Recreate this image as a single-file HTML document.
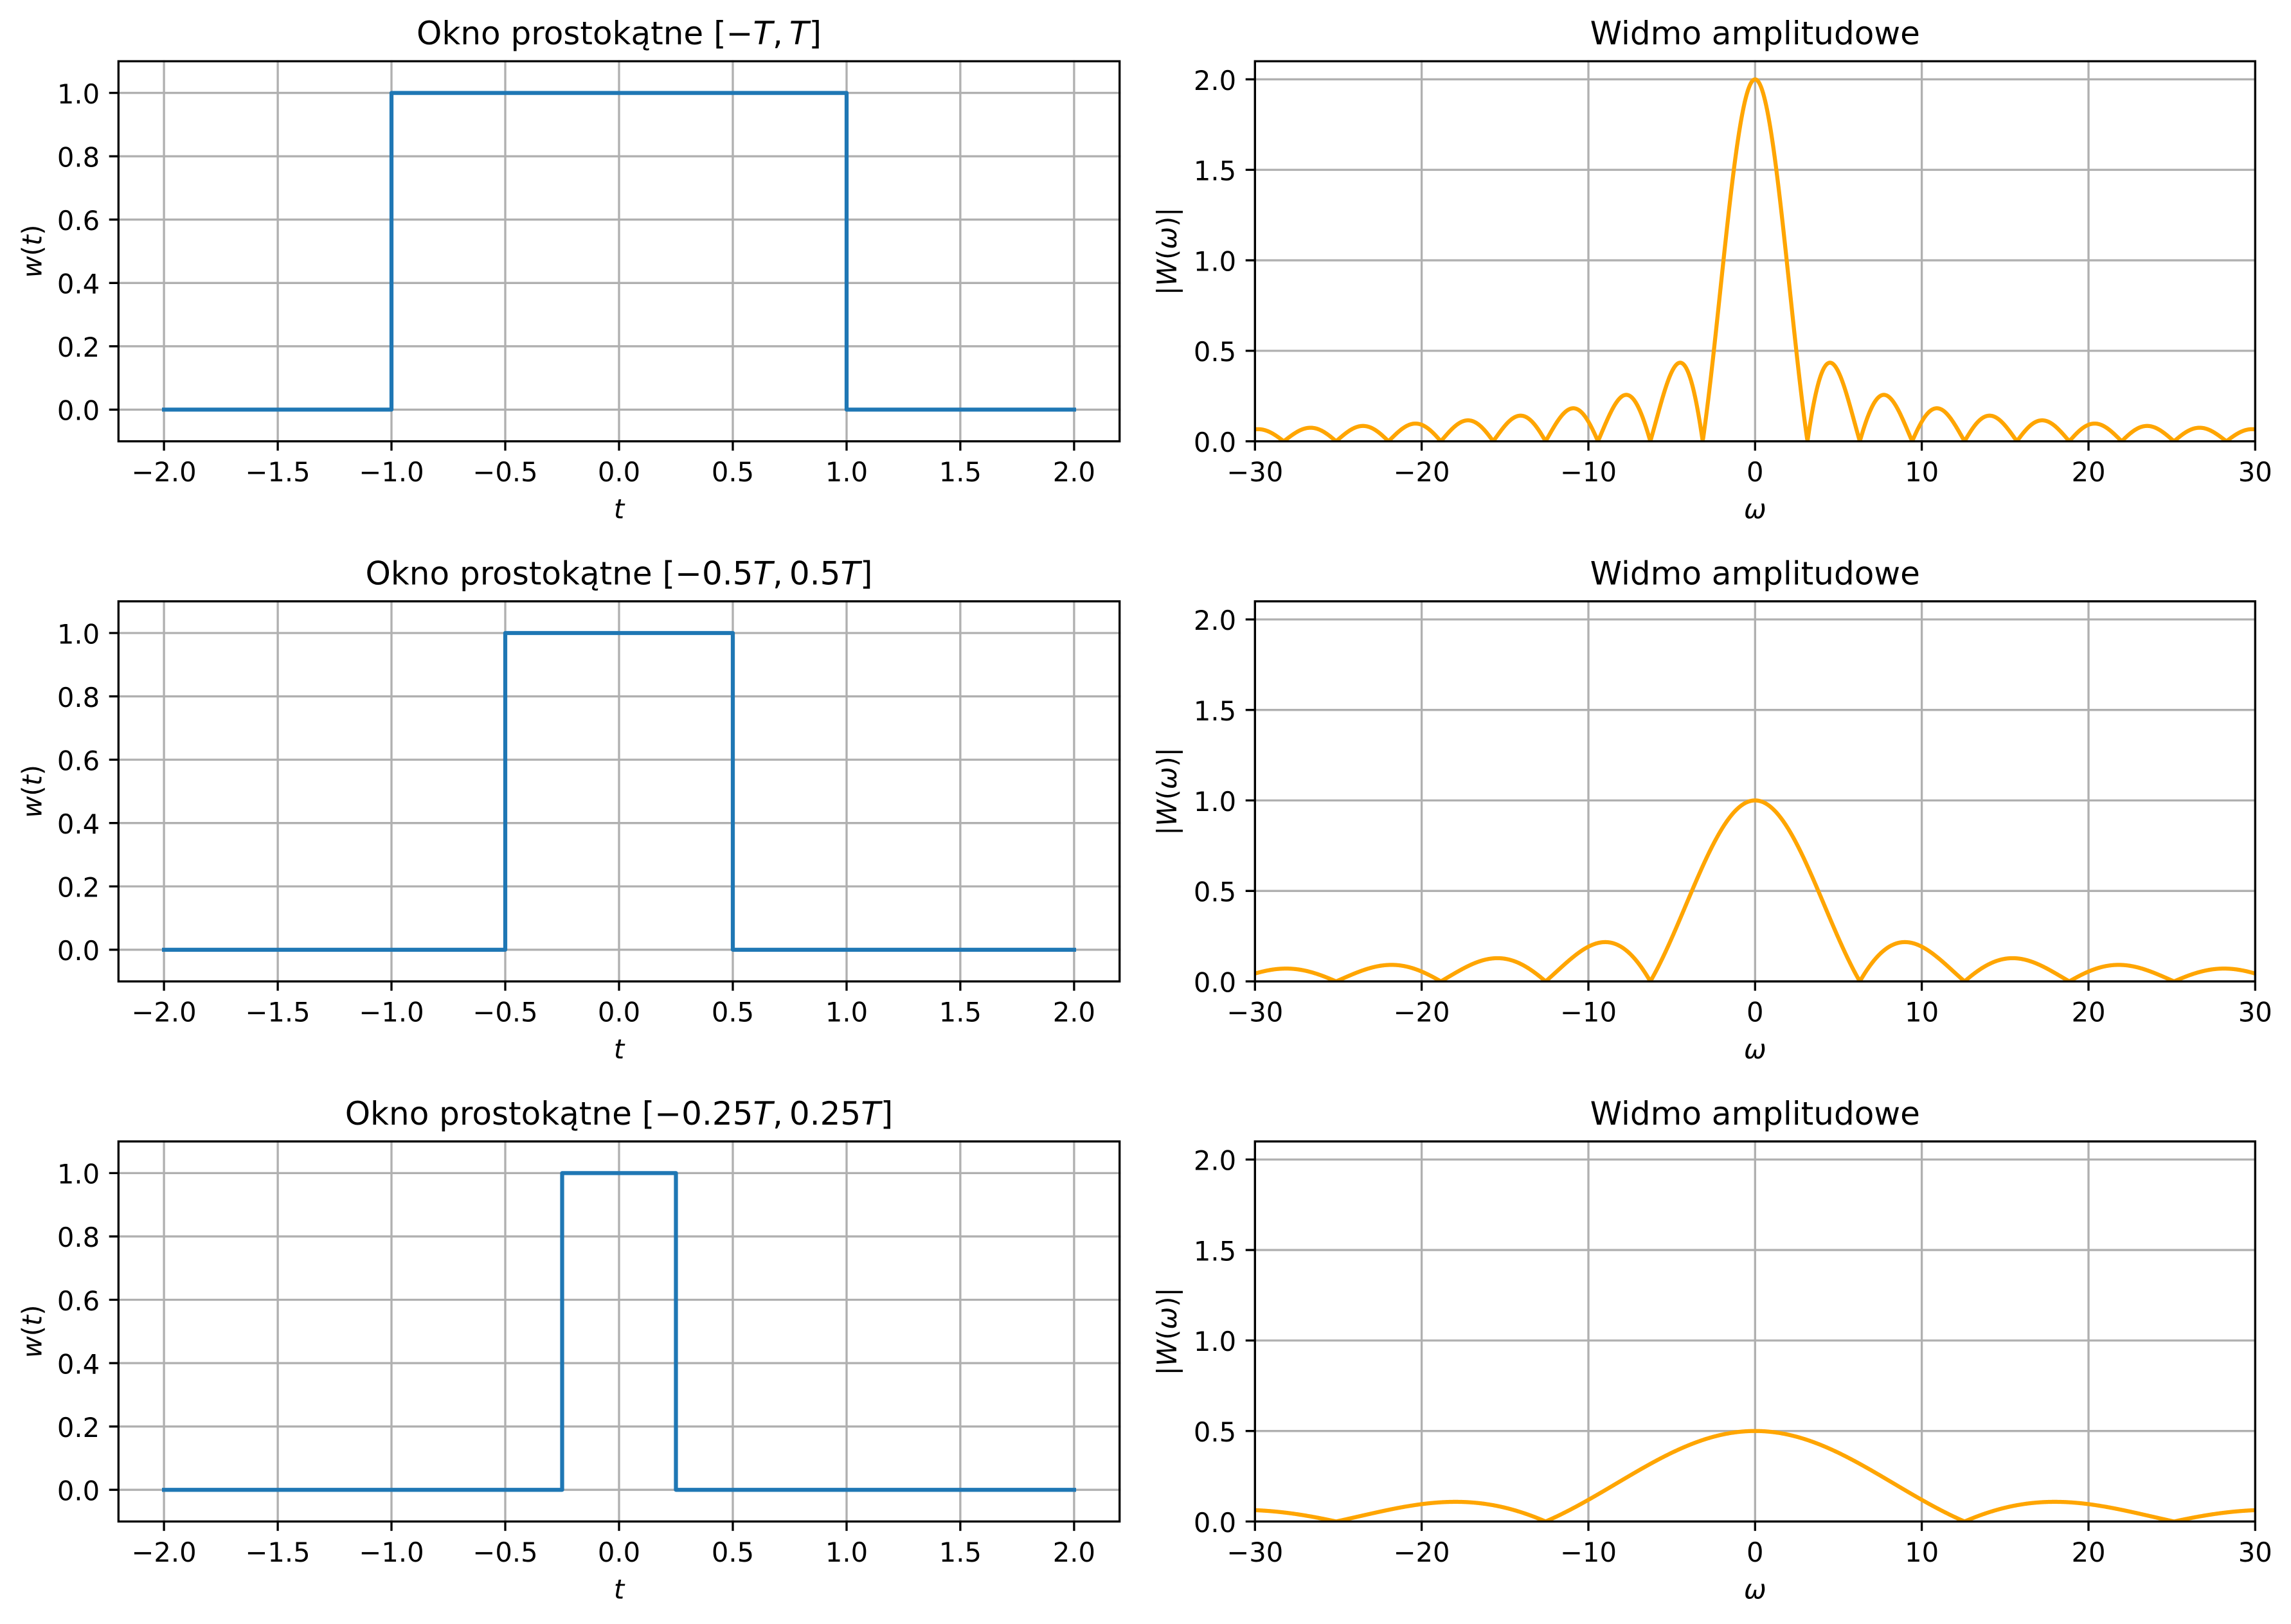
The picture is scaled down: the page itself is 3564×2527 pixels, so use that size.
<!DOCTYPE html>
<html>
<head>
<meta charset="utf-8">
<style>
  html, body { margin: 0; padding: 0; background: #ffffff; }
  svg { display: block; }
  .t { font-family: "DejaVu Sans", "Liberation Sans", sans-serif; font-size: 41.67px; fill: #000; }
  .ti { font-family: "DejaVu Sans", "Liberation Sans", sans-serif; font-size: 50px; fill: #000; }
  .grid { stroke: #b0b0b0; stroke-width: 3.33; fill: none; stroke-linecap: square; }
  .spine { stroke: #000; stroke-width: 3.33; fill: none; stroke-linejoin: miter; }
  .tick { stroke: #000; stroke-width: 3.33; fill: none; }
  .blue { stroke: #1f77b4; stroke-width: 6.25; fill: none; stroke-linejoin: round; stroke-linecap: square; }
  .orange { stroke: #ffa500; stroke-width: 6.25; fill: none; stroke-linejoin: round; stroke-linecap: square; }
</style>
</head>
<body>
<svg xmlns="http://www.w3.org/2000/svg" width="3564" height="2527" viewBox="0 0 3564 2527">
  <rect x="0" y="0" width="3564" height="2527" fill="#ffffff"/>
  <defs>
    <clipPath id="cl" clipPathUnits="userSpaceOnUse"><rect x="184.3" y="0" width="1557.4" height="591.4"/></clipPath>
    <clipPath id="cr" clipPathUnits="userSpaceOnUse"><rect x="1952.3" y="0" width="1556" height="591.4"/></clipPath>
  </defs>

  <!-- ================= ROW 1 ================= -->
  <g transform="translate(0,95.3)">
    <!-- LEFT -->
    <path class="grid" d="M255.1 0V591.4M432.1 0V591.4M609.0 0V591.4M786.0 0V591.4M963.0 0V591.4M1140.0 0V591.4M1317.0 0V591.4M1493.9 0V591.4M1670.9 0V591.4"/>
    <path class="grid" d="M184.3 49.28H1741.7M184.3 147.85H1741.7M184.3 246.42H1741.7M184.3 344.98H1741.7M184.3 443.55H1741.7M184.3 542.12H1741.7"/>
    <path class="blue" clip-path="url(#cl)" d="M255.1 542.12H609.0V49.28H1317.0V542.12H1670.9"/>
    <rect class="spine" x="184.3" y="0" width="1557.4" height="591.4"/>
    <path class="tick" d="M255.1 591.4v14.58M432.1 591.4v14.58M609.0 591.4v14.58M786.0 591.4v14.58M963.0 591.4v14.58M1140.0 591.4v14.58M1317.0 591.4v14.58M1493.9 591.4v14.58M1670.9 591.4v14.58"/>
    <path class="tick" d="M184.3 49.28h-14.58M184.3 147.85h-14.58M184.3 246.42h-14.58M184.3 344.98h-14.58M184.3 443.55h-14.58M184.3 542.12h-14.58"/>
    <g class="t" text-anchor="middle">
      <text x="255.1" y="653.7">−2.0</text>
      <text x="432.1" y="653.7">−1.5</text>
      <text x="609.0" y="653.7">−1.0</text>
      <text x="786.0" y="653.7">−0.5</text>
      <text x="963.0" y="653.7">0.0</text>
      <text x="1140.0" y="653.7">0.5</text>
      <text x="1317.0" y="653.7">1.0</text>
      <text x="1493.9" y="653.7">1.5</text>
      <text x="1670.9" y="653.7">2.0</text>
    </g>
    <g class="t" text-anchor="end">
      <text x="155.1" y="65.58">1.0</text>
      <text x="155.1" y="164.15">0.8</text>
      <text x="155.1" y="262.72">0.6</text>
      <text x="155.1" y="361.28">0.4</text>
      <text x="155.1" y="459.85">0.2</text>
      <text x="155.1" y="558.42">0.0</text>
    </g>
    <text class="t" x="963.0" y="711.4" text-anchor="middle" font-style="italic">t</text>
    <text class="t" transform="translate(64.5,295.7) rotate(-90)" text-anchor="middle"><tspan font-style="italic">w</tspan>(<tspan font-style="italic">t</tspan>)</text>
    <text class="ti" x="963.0" y="-26.3" text-anchor="middle">Okno prostokątne [−<tspan font-style="italic">T</tspan>,&#8201;<tspan font-style="italic">T</tspan>]</text>

    <!-- RIGHT -->
    <path class="grid" d="M1952.3 0V591.4M2211.6 0V591.4M2471.0 0V591.4M2730.3 0V591.4M2989.6 0V591.4M3249.0 0V591.4M3508.3 0V591.4"/>
    <path class="grid" d="M1952.3 28.16H3508.3M1952.3 168.97H3508.3M1952.3 309.78H3508.3M1952.3 450.59H3508.3M1952.3 591.4H3508.3"/>
    <path id="o0" class="orange" clip-path="url(#cr)" d=""/>
    <rect class="spine" x="1952.3" y="0" width="1556" height="591.4"/>
    <path class="tick" d="M1952.3 591.4v14.58M2211.6 591.4v14.58M2471.0 591.4v14.58M2730.3 591.4v14.58M2989.6 591.4v14.58M3249.0 591.4v14.58M3508.3 591.4v14.58"/>
    <path class="tick" d="M1952.3 28.16h-14.58M1952.3 168.97h-14.58M1952.3 309.78h-14.58M1952.3 450.59h-14.58M1952.3 591.4h-14.58"/>
    <g class="t" text-anchor="middle">
      <text x="1952.3" y="653.7">−30</text>
      <text x="2211.6" y="653.7">−20</text>
      <text x="2471.0" y="653.7">−10</text>
      <text x="2730.3" y="653.7">0</text>
      <text x="2989.6" y="653.7">10</text>
      <text x="3249.0" y="653.7">20</text>
      <text x="3508.3" y="653.7">30</text>
    </g>
    <g class="t" text-anchor="end">
      <text x="1923.1" y="44.46">2.0</text>
      <text x="1923.1" y="185.27">1.5</text>
      <text x="1923.1" y="326.08">1.0</text>
      <text x="1923.1" y="466.89">0.5</text>
      <text x="1923.1" y="607.7">0.0</text>
    </g>
    <text class="t" x="2730.3" y="711.4" text-anchor="middle" font-style="italic">ω</text>
    <text class="t" transform="translate(1830,295.7) rotate(-90)" text-anchor="middle">|<tspan font-style="italic">W</tspan>(<tspan font-style="italic">ω</tspan>)|</text>
    <text class="ti" x="2730.3" y="-26.3" text-anchor="middle">Widmo amplitudowe</text>
  </g>

  <!-- ================= ROW 2 ================= -->
  <g transform="translate(0,935.7)">
    <!-- LEFT -->
    <path class="grid" d="M255.1 0V591.4M432.1 0V591.4M609.0 0V591.4M786.0 0V591.4M963.0 0V591.4M1140.0 0V591.4M1317.0 0V591.4M1493.9 0V591.4M1670.9 0V591.4"/>
    <path class="grid" d="M184.3 49.28H1741.7M184.3 147.85H1741.7M184.3 246.42H1741.7M184.3 344.98H1741.7M184.3 443.55H1741.7M184.3 542.12H1741.7"/>
    <path class="blue" clip-path="url(#cl)" d="M255.1 542.12H786.0V49.28H1140.0V542.12H1670.9"/>
    <rect class="spine" x="184.3" y="0" width="1557.4" height="591.4"/>
    <path class="tick" d="M255.1 591.4v14.58M432.1 591.4v14.58M609.0 591.4v14.58M786.0 591.4v14.58M963.0 591.4v14.58M1140.0 591.4v14.58M1317.0 591.4v14.58M1493.9 591.4v14.58M1670.9 591.4v14.58"/>
    <path class="tick" d="M184.3 49.28h-14.58M184.3 147.85h-14.58M184.3 246.42h-14.58M184.3 344.98h-14.58M184.3 443.55h-14.58M184.3 542.12h-14.58"/>
    <g class="t" text-anchor="middle">
      <text x="255.1" y="653.7">−2.0</text>
      <text x="432.1" y="653.7">−1.5</text>
      <text x="609.0" y="653.7">−1.0</text>
      <text x="786.0" y="653.7">−0.5</text>
      <text x="963.0" y="653.7">0.0</text>
      <text x="1140.0" y="653.7">0.5</text>
      <text x="1317.0" y="653.7">1.0</text>
      <text x="1493.9" y="653.7">1.5</text>
      <text x="1670.9" y="653.7">2.0</text>
    </g>
    <g class="t" text-anchor="end">
      <text x="155.1" y="65.58">1.0</text>
      <text x="155.1" y="164.15">0.8</text>
      <text x="155.1" y="262.72">0.6</text>
      <text x="155.1" y="361.28">0.4</text>
      <text x="155.1" y="459.85">0.2</text>
      <text x="155.1" y="558.42">0.0</text>
    </g>
    <text class="t" x="963.0" y="711.4" text-anchor="middle" font-style="italic">t</text>
    <text class="t" transform="translate(64.5,295.7) rotate(-90)" text-anchor="middle"><tspan font-style="italic">w</tspan>(<tspan font-style="italic">t</tspan>)</text>
    <text class="ti" x="963.0" y="-26.3" text-anchor="middle">Okno prostokątne [−0.5<tspan font-style="italic">T</tspan>,&#8201;0.5<tspan font-style="italic">T</tspan>]</text>

    <!-- RIGHT -->
    <path class="grid" d="M1952.3 0V591.4M2211.6 0V591.4M2471.0 0V591.4M2730.3 0V591.4M2989.6 0V591.4M3249.0 0V591.4M3508.3 0V591.4"/>
    <path class="grid" d="M1952.3 28.16H3508.3M1952.3 168.97H3508.3M1952.3 309.78H3508.3M1952.3 450.59H3508.3M1952.3 591.4H3508.3"/>
    <path id="o1" class="orange" clip-path="url(#cr)" d=""/>
    <rect class="spine" x="1952.3" y="0" width="1556" height="591.4"/>
    <path class="tick" d="M1952.3 591.4v14.58M2211.6 591.4v14.58M2471.0 591.4v14.58M2730.3 591.4v14.58M2989.6 591.4v14.58M3249.0 591.4v14.58M3508.3 591.4v14.58"/>
    <path class="tick" d="M1952.3 28.16h-14.58M1952.3 168.97h-14.58M1952.3 309.78h-14.58M1952.3 450.59h-14.58M1952.3 591.4h-14.58"/>
    <g class="t" text-anchor="middle">
      <text x="1952.3" y="653.7">−30</text>
      <text x="2211.6" y="653.7">−20</text>
      <text x="2471.0" y="653.7">−10</text>
      <text x="2730.3" y="653.7">0</text>
      <text x="2989.6" y="653.7">10</text>
      <text x="3249.0" y="653.7">20</text>
      <text x="3508.3" y="653.7">30</text>
    </g>
    <g class="t" text-anchor="end">
      <text x="1923.1" y="44.46">2.0</text>
      <text x="1923.1" y="185.27">1.5</text>
      <text x="1923.1" y="326.08">1.0</text>
      <text x="1923.1" y="466.89">0.5</text>
      <text x="1923.1" y="607.7">0.0</text>
    </g>
    <text class="t" x="2730.3" y="711.4" text-anchor="middle" font-style="italic">ω</text>
    <text class="t" transform="translate(1830,295.7) rotate(-90)" text-anchor="middle">|<tspan font-style="italic">W</tspan>(<tspan font-style="italic">ω</tspan>)|</text>
    <text class="ti" x="2730.3" y="-26.3" text-anchor="middle">Widmo amplitudowe</text>
  </g>

  <!-- ================= ROW 3 ================= -->
  <g transform="translate(0,1776.1)">
    <!-- LEFT -->
    <path class="grid" d="M255.1 0V591.4M432.1 0V591.4M609.0 0V591.4M786.0 0V591.4M963.0 0V591.4M1140.0 0V591.4M1317.0 0V591.4M1493.9 0V591.4M1670.9 0V591.4"/>
    <path class="grid" d="M184.3 49.28H1741.7M184.3 147.85H1741.7M184.3 246.42H1741.7M184.3 344.98H1741.7M184.3 443.55H1741.7M184.3 542.12H1741.7"/>
    <path class="blue" clip-path="url(#cl)" d="M255.1 542.12H874.5V49.28H1051.5V542.12H1670.9"/>
    <rect class="spine" x="184.3" y="0" width="1557.4" height="591.4"/>
    <path class="tick" d="M255.1 591.4v14.58M432.1 591.4v14.58M609.0 591.4v14.58M786.0 591.4v14.58M963.0 591.4v14.58M1140.0 591.4v14.58M1317.0 591.4v14.58M1493.9 591.4v14.58M1670.9 591.4v14.58"/>
    <path class="tick" d="M184.3 49.28h-14.58M184.3 147.85h-14.58M184.3 246.42h-14.58M184.3 344.98h-14.58M184.3 443.55h-14.58M184.3 542.12h-14.58"/>
    <g class="t" text-anchor="middle">
      <text x="255.1" y="653.7">−2.0</text>
      <text x="432.1" y="653.7">−1.5</text>
      <text x="609.0" y="653.7">−1.0</text>
      <text x="786.0" y="653.7">−0.5</text>
      <text x="963.0" y="653.7">0.0</text>
      <text x="1140.0" y="653.7">0.5</text>
      <text x="1317.0" y="653.7">1.0</text>
      <text x="1493.9" y="653.7">1.5</text>
      <text x="1670.9" y="653.7">2.0</text>
    </g>
    <g class="t" text-anchor="end">
      <text x="155.1" y="65.58">1.0</text>
      <text x="155.1" y="164.15">0.8</text>
      <text x="155.1" y="262.72">0.6</text>
      <text x="155.1" y="361.28">0.4</text>
      <text x="155.1" y="459.85">0.2</text>
      <text x="155.1" y="558.42">0.0</text>
    </g>
    <text class="t" x="963.0" y="711.4" text-anchor="middle" font-style="italic">t</text>
    <text class="t" transform="translate(64.5,295.7) rotate(-90)" text-anchor="middle"><tspan font-style="italic">w</tspan>(<tspan font-style="italic">t</tspan>)</text>
    <text class="ti" x="963.0" y="-26.3" text-anchor="middle">Okno prostokątne [−0.25<tspan font-style="italic">T</tspan>,&#8201;0.25<tspan font-style="italic">T</tspan>]</text>

    <!-- RIGHT -->
    <path class="grid" d="M1952.3 0V591.4M2211.6 0V591.4M2471.0 0V591.4M2730.3 0V591.4M2989.6 0V591.4M3249.0 0V591.4M3508.3 0V591.4"/>
    <path class="grid" d="M1952.3 28.16H3508.3M1952.3 168.97H3508.3M1952.3 309.78H3508.3M1952.3 450.59H3508.3M1952.3 591.4H3508.3"/>
    <path id="o2" class="orange" clip-path="url(#cr)" d=""/>
    <rect class="spine" x="1952.3" y="0" width="1556" height="591.4"/>
    <path class="tick" d="M1952.3 591.4v14.58M2211.6 591.4v14.58M2471.0 591.4v14.58M2730.3 591.4v14.58M2989.6 591.4v14.58M3249.0 591.4v14.58M3508.3 591.4v14.58"/>
    <path class="tick" d="M1952.3 28.16h-14.58M1952.3 168.97h-14.58M1952.3 309.78h-14.58M1952.3 450.59h-14.58M1952.3 591.4h-14.58"/>
    <g class="t" text-anchor="middle">
      <text x="1952.3" y="653.7">−30</text>
      <text x="2211.6" y="653.7">−20</text>
      <text x="2471.0" y="653.7">−10</text>
      <text x="2730.3" y="653.7">0</text>
      <text x="2989.6" y="653.7">10</text>
      <text x="3249.0" y="653.7">20</text>
      <text x="3508.3" y="653.7">30</text>
    </g>
    <g class="t" text-anchor="end">
      <text x="1923.1" y="44.46">2.0</text>
      <text x="1923.1" y="185.27">1.5</text>
      <text x="1923.1" y="326.08">1.0</text>
      <text x="1923.1" y="466.89">0.5</text>
      <text x="1923.1" y="607.7">0.0</text>
    </g>
    <text class="t" x="2730.3" y="711.4" text-anchor="middle" font-style="italic">ω</text>
    <text class="t" transform="translate(1830,295.7) rotate(-90)" text-anchor="middle">|<tspan font-style="italic">W</tspan>(<tspan font-style="italic">ω</tspan>)|</text>
    <text class="ti" x="2730.3" y="-26.3" text-anchor="middle">Widmo amplitudowe</text>
  </g>
</svg>
<script>
(function(){
  var as = [1, 0.5, 0.25];
  for (var k = 0; k < 3; k++) {
    var a = as[k], d = '', N = 2000;
    for (var i = 0; i <= N; i++) {
      var w = -30 + 60 * i / N;
      var W = (Math.abs(w) < 1e-12) ? 2 * a : Math.abs(2 * Math.sin(a * w) / w);
      var x = 1952.3 + (w + 30) * 25.93333;
      var y = (2.1 - W) * 281.619;
      d += (i ? 'L' : 'M') + x.toFixed(2) + ' ' + y.toFixed(2);
    }
    document.getElementById('o' + k).setAttribute('d', d);
  }
})();
</script>
</body>
</html>
